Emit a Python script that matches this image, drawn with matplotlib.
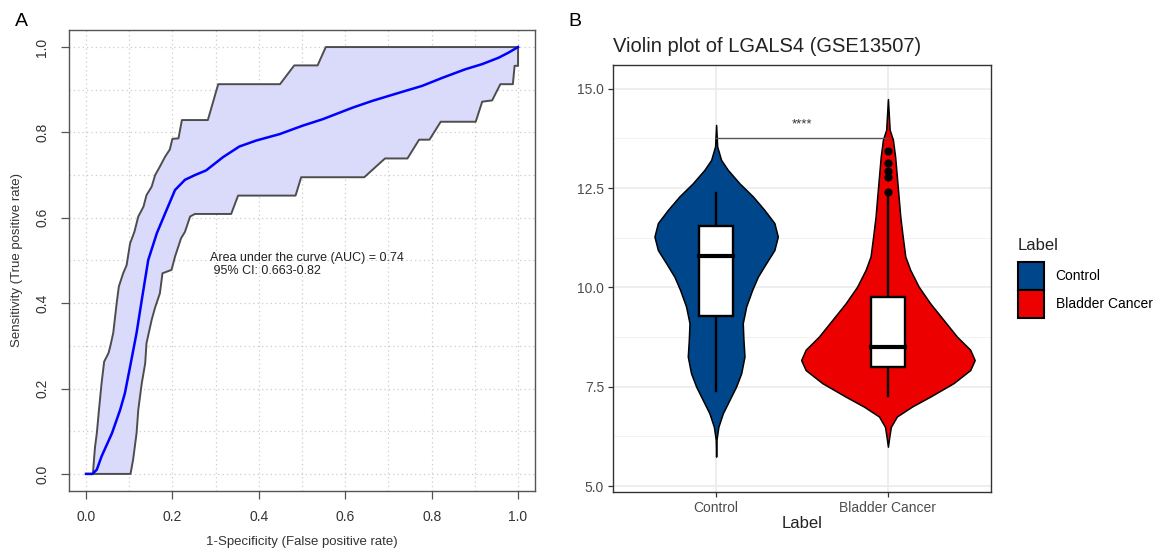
import matplotlib.pyplot as plt
from matplotlib.patches import Patch

plt.rcParams['font.family'] = ['Liberation Sans', 'DejaVu Sans']

# ROC curve (smoothed mean) with 95% CI band of sensitivities
fpr_mean = [0, 0.015, 0.025, 0.036, 0.06, 0.079, 0.09, 0.102, 0.117, 0.129, 0.144, 0.164,
            0.183, 0.206, 0.229, 0.252, 0.278, 0.317, 0.355, 0.394, 0.448, 0.502, 0.548,
            0.617, 0.663, 0.725, 0.778, 0.825, 0.878, 0.917, 0.955, 0.978, 1.0]
tpr_mean = [0, 0, 0.01, 0.041, 0.095, 0.15, 0.189, 0.251, 0.33, 0.407, 0.501, 0.564,
            0.61, 0.665, 0.689, 0.70, 0.711, 0.742, 0.767, 0.781, 0.796, 0.816, 0.831,
            0.858, 0.874, 0.893, 0.909, 0.928, 0.948, 0.96, 0.975, 0.987, 1.0]

fpr_upper = [0, 0.016, 0.019, 0.021, 0.025, 0.03, 0.036, 0.042, 0.052, 0.056, 0.063, 0.071,
             0.076, 0.086, 0.094, 0.102, 0.112, 0.121, 0.133, 0.14, 0.152, 0.16, 0.171,
             0.183, 0.194, 0.2, 0.214, 0.222, 0.282, 0.306, 0.449, 0.482, 0.536, 0.555, 1.0]
tpr_upper = [0, 0, 0.04, 0.064, 0.095, 0.15, 0.212, 0.263, 0.283, 0.298, 0.33, 0.40,
             0.439, 0.47, 0.489, 0.54, 0.567, 0.603, 0.626, 0.653, 0.673, 0.70, 0.72,
             0.743, 0.76, 0.785, 0.786, 0.829, 0.829, 0.913, 0.913, 0.957, 0.957, 1.0, 1.0]

fpr_lower = [0, 0.103, 0.109, 0.113, 0.117, 0.121, 0.129, 0.137, 0.14, 0.152, 0.16, 0.171,
             0.177, 0.198, 0.206, 0.22, 0.229, 0.241, 0.252, 0.336, 0.352, 0.485, 0.498,
             0.644, 0.692, 0.744, 0.771, 0.795, 0.821, 0.902, 0.917, 0.94, 0.959, 0.988,
             0.992, 1.0, 1.0]
tpr_lower = [0, 0, 0.033, 0.064, 0.095, 0.15, 0.212, 0.259, 0.306, 0.361, 0.39, 0.423,
             0.47, 0.478, 0.509, 0.552, 0.567, 0.603, 0.609, 0.609, 0.652, 0.652, 0.695,
             0.695, 0.739, 0.739, 0.783, 0.783, 0.825, 0.825, 0.872, 0.875, 0.913, 0.913,
             0.956, 0.956, 1.0]

auc_text = "Area under the curve (AUC) = 0.74\n 95% CI: 0.663-0.82"

# violin outlines: expression level and half width of the density
groups = ["Control", "Bladder Cancer"]
group_colors = ["#00468B", "#ED0000"]

ctrl_y = [5.74, 6.16, 6.49, 6.83, 7.17, 7.50, 7.84, 8.26, 8.68, 9.10, 9.52, 9.94, 10.27,
          10.61, 10.94, 11.28, 11.62, 11.95, 12.29, 12.62, 12.96, 13.21, 13.55, 14.09]
ctrl_w = [0.0, 0.002, 0.013, 0.039, 0.078, 0.116, 0.146, 0.165, 0.159, 0.155, 0.175, 0.210,
          0.243, 0.291, 0.339, 0.359, 0.339, 0.281, 0.214, 0.136, 0.068, 0.029, 0.006, 0.0]

blad_y = [5.99, 6.24, 6.49, 6.75, 7.0, 7.25, 7.59, 7.92, 8.17, 8.43, 8.76, 9.18, 9.60,
          10.02, 10.44, 10.78, 11.28, 11.78, 12.29, 12.79, 13.29, 13.72, 13.97, 14.74]
blad_w = [0.0, 0.008, 0.017, 0.052, 0.140, 0.246, 0.382, 0.479, 0.505, 0.479, 0.402, 0.324,
          0.246, 0.179, 0.130, 0.101, 0.086, 0.072, 0.062, 0.052, 0.042, 0.029, 0.010, 0.0]

# boxplot stats: lower whisker, Q1, median, Q3, upper whisker
ctrl_box = [7.40, 9.28, 10.80, 11.55, 12.38]
blad_box = [7.27, 8.00, 8.51, 9.75, 12.30]
blad_outliers = [12.40, 12.78, 12.93, 13.12, 13.43]

sig_y = 13.76
sig_label = "****"

fig = plt.figure(figsize=(11.53, 5.5), dpi=100)

# ---- A: ROC ----
ax1 = fig.add_axes([0.0596, 0.1073, 0.4047, 0.8382])
ax1.set_xlim(-0.04, 1.04)
ax1.set_ylim(-0.04, 1.04)
for g in [i / 10 for i in range(11)]:
    ax1.axvline(g, color="#cccccc", lw=0.9, ls=(0, (1, 2.5)), zorder=0)
    ax1.axhline(g, color="#cccccc", lw=0.9, ls=(0, (1, 2.5)), zorder=0)

ax1.fill(fpr_upper + fpr_lower[::-1], tpr_upper + tpr_lower[::-1],
         facecolor="#dadafa", edgecolor="none", zorder=1)
ax1.plot(fpr_upper, tpr_upper, color="#4d4d4d", lw=1.4, zorder=2)
ax1.plot(fpr_lower, tpr_lower, color="#4d4d4d", lw=1.4, zorder=2)
ax1.plot(fpr_mean, tpr_mean, color="#0000ff", lw=1.8, zorder=3)
ax1.text(0.287, 0.49, auc_text, fontsize=9, color="#222222", ha="left", va="center",
         linespacing=1.1)

ax1.set_xticks([0, 0.2, 0.4, 0.6, 0.8, 1.0])
ax1.set_yticks([0, 0.2, 0.4, 0.6, 0.8, 1.0])
ax1.set_xticklabels(["0.0", "0.2", "0.4", "0.6", "0.8", "1.0"])
ax1.set_yticklabels(["0.0", "0.2", "0.4", "0.6", "0.8", "1.0"], rotation=90, va="center")
ax1.tick_params(direction="out", length=6, width=0.9, color="#555555",
                labelsize=10, labelcolor="#333333", pad=8)
for s in ax1.spines.values():
    s.set_color("#555555")
    s.set_linewidth(1.0)
ax1.set_xlabel("1-Specificity (False positive rate)", fontsize=9.5, color="#333333", labelpad=8)
ax1.set_ylabel("Sensitivity (True positive rate)", fontsize=9.5, color="#333333", labelpad=9)

# ---- B: violin ----
ax2 = fig.add_axes([0.5317, 0.1055, 0.3278, 0.7764])
ax2.set_xlim(0.4, 2.6)
ax2.set_ylim(4.85, 15.6)
for v in [6.25, 8.75, 11.25, 13.75]:
    ax2.axhline(v, color="#f0f0f0", lw=0.6, zorder=0)
for v in [5, 7.5, 10, 12.5, 15]:
    ax2.axhline(v, color="#ebebeb", lw=1.2, zorder=0)
for v in [1, 2]:
    ax2.axvline(v, color="#ebebeb", lw=1.2, zorder=0)

for pos, ys, ws, col in [(1, ctrl_y, ctrl_w, group_colors[0]),
                         (2, blad_y, blad_w, group_colors[1])]:
    ax2.fill_betweenx(ys, [pos - w for w in ws], [pos + w for w in ws],
                      facecolor=col, edgecolor="black", lw=1.1, zorder=2)

for pos, b in [(1, ctrl_box), (2, blad_box)]:
    ax2.plot([pos, pos], [b[0], b[1]], color="black", lw=1.7, zorder=3)
    ax2.plot([pos, pos], [b[3], b[4]], color="black", lw=1.7, zorder=3)
    ax2.add_patch(plt.Rectangle((pos - 0.1, b[1]), 0.2, b[3] - b[1], facecolor="white",
                                edgecolor="black", lw=1.7, zorder=4))
    ax2.plot([pos - 0.1, pos + 0.1], [b[2], b[2]], color="black", lw=3.0, zorder=5)
ax2.scatter([2] * len(blad_outliers), blad_outliers, s=24, color="black", zorder=5)

ax2.plot([1, 2], [sig_y, sig_y], color="#555555", lw=1.0, zorder=3)
ax2.text(1.5, sig_y + 0.2, sig_label, ha="center", va="bottom", fontsize=9.5, color="#333333")

ax2.set_xticks([1, 2])
ax2.set_xticklabels(groups)
ax2.set_yticks([5, 7.5, 10, 12.5, 15])
ax2.set_yticklabels(["5.0", "7.5", "10.0", "12.5", "15.0"])
ax2.tick_params(direction="out", length=3.5, width=0.9, color="#333333",
                labelsize=10, labelcolor="#4d4d4d", pad=3)
for s in ax2.spines.values():
    s.set_color("#333333")
    s.set_linewidth(1.0)
ax2.set_xlabel("Label", fontsize=12, color="#222222", labelpad=1)
ax2.set_title("Violin plot of LGALS4 (GSE13507)", fontsize=14.5, loc="left", pad=9,
              color="#222222")

# legend: title drawn separately, keys stacked with no gap
fig.text(1018 / 1153, 1 - 246 / 550, "Label", fontsize=12, color="#222222",
         ha="left", va="center")
handles = [Patch(facecolor=c, edgecolor="black", lw=1.5, label=g)
           for c, g in zip(group_colors, groups)]
fig.legend(handles=handles, loc="upper left", bbox_to_anchor=(1018 / 1153, 1 - 262 / 550),
           fontsize=10, frameon=False, borderpad=0, borderaxespad=0,
           handlelength=1.9, handleheight=2.75, labelspacing=0, handletextpad=0.8)

fig.text(15 / 1153, 1 - 22 / 550, "A", fontsize=14, va="center", ha="left")
fig.text(568 / 1153, 1 - 22 / 550, "B", fontsize=14, va="center", ha="left")

fig.savefig("out.png", dpi=100)
